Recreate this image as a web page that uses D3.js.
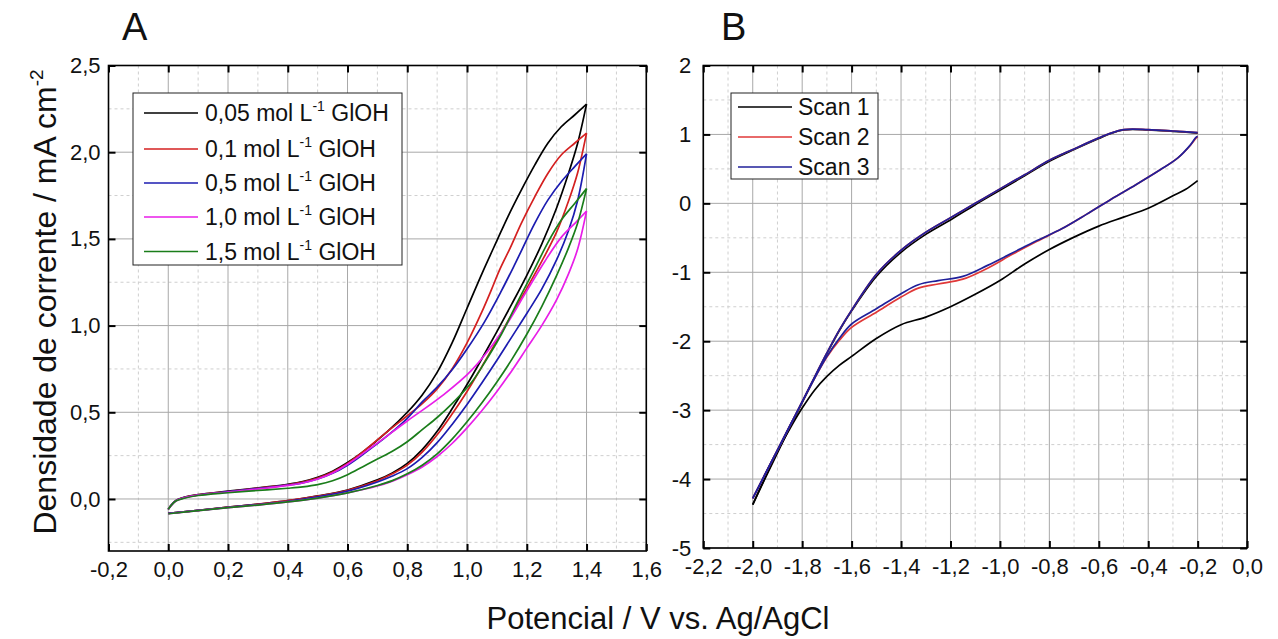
<!DOCTYPE html>
<html><head><meta charset="utf-8">
<script src="https://cdn.jsdelivr.net/npm/d3@7"></script>
<style>
body{margin:0;background:#fff}
text{font-family:"Liberation Sans",Arial,Helvetica,sans-serif;fill:#111}
</style>
</head><body>
<svg id="chart" width="1278" height="639"></svg>
<script>
// ---------------- DATA ----------------
// Panel A: potential (V) vs current density (mA cm-2), forward (lower) and reverse (upper) branches
const glyc005_fwd = [[0,-0.083],[0.1,-0.066],[0.2,-0.047],[0.3,-0.03],[0.4,-0.01],[0.5,0.018],[0.6,0.052],[0.7,0.11],[0.75,0.15],[0.8,0.205],[0.85,0.285],[0.9,0.39],[0.95,0.52],[1.0,0.66],[1.05,0.81],[1.1,0.965],[1.15,1.125],[1.2,1.29],[1.25,1.47],[1.3,1.68],[1.34,1.88],[1.37,2.05],[1.4,2.277]];
const glyc005_rev = [[1.4,2.277],[1.361,2.216],[1.316,2.148],[1.271,2.053],[1.227,1.927],[1.182,1.783],[1.137,1.629],[1.1,1.49],[1.05,1.3],[1.0,1.1],[0.95,0.9],[0.9,0.73],[0.85,0.6],[0.8,0.5],[0.734,0.39],[0.65,0.27],[0.6,0.21],[0.55,0.16],[0.5,0.125],[0.45,0.1],[0.4,0.085],[0.33,0.07],[0.2,0.045],[0.1,0.025],[0.05,0.008],[0.025,-0.01],[0.008,-0.04],[0,-0.06]];
const glyc01_fwd = [[0,-0.083],[0.1,-0.066],[0.2,-0.047],[0.3,-0.03],[0.4,-0.01],[0.5,0.016],[0.6,0.05],[0.7,0.105],[0.75,0.145],[0.8,0.195],[0.85,0.27],[0.9,0.37],[0.95,0.49],[1.0,0.62],[1.05,0.765],[1.1,0.915],[1.15,1.065],[1.2,1.215],[1.25,1.37],[1.3,1.54],[1.34,1.72],[1.37,1.88],[1.4,2.11]];
const glyc01_rev = [[1.4,2.11],[1.361,2.053],[1.316,1.985],[1.271,1.879],[1.227,1.744],[1.182,1.591],[1.145,1.45],[1.109,1.321],[1.08,1.2],[1.05,1.08],[1.0,0.9],[0.95,0.75],[0.9,0.635],[0.85,0.55],[0.8,0.48],[0.734,0.39],[0.65,0.27],[0.6,0.205],[0.55,0.155],[0.5,0.12],[0.45,0.097],[0.4,0.082],[0.33,0.068],[0.2,0.043],[0.1,0.024],[0.05,0.007],[0.025,-0.01],[0.008,-0.04],[0,-0.06]];
const glyc05_fwd = [[0,-0.083],[0.1,-0.066],[0.2,-0.048],[0.3,-0.032],[0.4,-0.013],[0.5,0.012],[0.6,0.045],[0.7,0.098],[0.75,0.132],[0.8,0.175],[0.85,0.24],[0.9,0.325],[0.95,0.43],[1.0,0.545],[1.05,0.67],[1.1,0.8],[1.15,0.935],[1.2,1.07],[1.25,1.21],[1.3,1.38],[1.34,1.55],[1.37,1.72],[1.4,1.99]];
const glyc05_rev = [[1.4,1.99],[1.361,1.918],[1.316,1.831],[1.271,1.725],[1.227,1.591],[1.159,1.35],[1.115,1.2],[1.058,1.02],[1.0,0.865],[0.95,0.745],[0.9,0.645],[0.85,0.56],[0.8,0.465],[0.734,0.365],[0.65,0.255],[0.6,0.195],[0.55,0.148],[0.5,0.115],[0.45,0.093],[0.4,0.08],[0.33,0.066],[0.2,0.042],[0.1,0.023],[0.05,0.006],[0.025,-0.01],[0.008,-0.04],[0,-0.06]];
const glyc10_fwd = [[0,-0.085],[0.1,-0.067],[0.2,-0.05],[0.3,-0.035],[0.4,-0.017],[0.5,0.005],[0.6,0.035],[0.7,0.075],[0.75,0.103],[0.8,0.14],[0.85,0.185],[0.9,0.245],[0.95,0.32],[1.0,0.41],[1.05,0.51],[1.1,0.62],[1.15,0.74],[1.2,0.87],[1.25,1.0],[1.3,1.15],[1.34,1.3],[1.37,1.44],[1.4,1.66]];
const glyc10_rev = [[1.4,1.66],[1.361,1.59],[1.316,1.51],[1.26,1.37],[1.2,1.2],[1.115,0.96],[1.014,0.74],[0.913,0.59],[0.8,0.45],[0.69,0.31],[0.6,0.2],[0.55,0.15],[0.5,0.115],[0.45,0.092],[0.4,0.078],[0.33,0.063],[0.2,0.04],[0.1,0.022],[0.05,0.005],[0.025,-0.012],[0.008,-0.04],[0,-0.06]];
const glyc15_fwd = [[0,-0.085],[0.1,-0.067],[0.2,-0.05],[0.3,-0.035],[0.4,-0.017],[0.5,0.005],[0.6,0.035],[0.7,0.078],[0.75,0.106],[0.8,0.145],[0.85,0.195],[0.9,0.26],[0.95,0.345],[1.0,0.445],[1.05,0.555],[1.1,0.675],[1.15,0.805],[1.2,0.95],[1.25,1.11],[1.3,1.29],[1.34,1.45],[1.37,1.59],[1.4,1.79]];
const glyc15_rev = [[1.4,1.79],[1.361,1.706],[1.316,1.61],[1.271,1.48],[1.227,1.33],[1.17,1.14],[1.115,0.95],[1.06,0.79],[1.014,0.67],[0.95,0.55],[0.9,0.47],[0.85,0.4],[0.8,0.33],[0.75,0.275],[0.7,0.23],[0.65,0.185],[0.6,0.14],[0.55,0.105],[0.5,0.083],[0.45,0.07],[0.4,0.062],[0.33,0.053],[0.2,0.036],[0.1,0.02],[0.05,0.003],[0.025,-0.012],[0.008,-0.04],[0,-0.06]];

const legendA = ["0,05", "0,1", "0,5", "1,0", "1,5"];

// Panel B: three scans, reverse (upper) and forward (lower) branches
const scan1_upper = [[-0.2,1.02],[-0.3,1.045],[-0.4,1.065],[-0.5,1.065],[-0.554,1.01],[-0.6,0.94],[-0.7,0.78],[-0.8,0.61],[-0.9,0.4],[-1.0,0.19],[-1.1,-0.02],[-1.2,-0.24],[-1.3,-0.45],[-1.4,-0.71],[-1.5,-1.06],[-1.6,-1.56],[-1.65,-1.85],[-1.7,-2.18],[-1.75,-2.53],[-1.8,-2.89],[-1.85,-3.25],[-1.9,-3.62],[-1.95,-3.99],[-2.0,-4.37]];
const scan1_lower = [[-2.0,-4.37],[-1.95,-3.98],[-1.9,-3.6],[-1.85,-3.27],[-1.8,-2.97],[-1.75,-2.71],[-1.7,-2.51],[-1.65,-2.35],[-1.6,-2.22],[-1.5,-1.96],[-1.4,-1.76],[-1.3,-1.65],[-1.2,-1.5],[-1.1,-1.32],[-1.0,-1.12],[-0.9,-0.88],[-0.8,-0.67],[-0.7,-0.49],[-0.6,-0.33],[-0.5,-0.2],[-0.4,-0.07],[-0.3,0.11],[-0.25,0.2],[-0.2,0.33]];
const scan2_upper = [[-0.2,1.025],[-0.3,1.05],[-0.4,1.07],[-0.5,1.07],[-0.554,1.015],[-0.6,0.95],[-0.7,0.79],[-0.8,0.625],[-0.9,0.415],[-1.0,0.21],[-1.1,0.0],[-1.2,-0.21],[-1.3,-0.42],[-1.4,-0.68],[-1.5,-1.03],[-1.6,-1.55],[-1.65,-1.84],[-1.7,-2.17],[-1.75,-2.52],[-1.8,-2.88],[-1.85,-3.23],[-1.9,-3.58],[-1.95,-3.93],[-2.0,-4.28]];
const scan2_lower = [[-2.0,-4.28],[-1.95,-3.93],[-1.9,-3.58],[-1.85,-3.23],[-1.8,-2.88],[-1.75,-2.54],[-1.7,-2.23],[-1.65,-1.99],[-1.6,-1.8],[-1.5,-1.58],[-1.4,-1.36],[-1.33,-1.23],[-1.25,-1.17],[-1.15,-1.1],[-1.05,-0.94],[-0.95,-0.74],[-0.85,-0.55],[-0.75,-0.37],[-0.65,-0.16],[-0.55,0.06],[-0.45,0.27],[-0.35,0.49],[-0.28,0.66],[-0.23,0.84],[-0.206,0.95],[-0.2,0.97]];
const scan3_upper = [[-0.2,1.025],[-0.3,1.05],[-0.4,1.07],[-0.5,1.07],[-0.554,1.015],[-0.6,0.95],[-0.7,0.79],[-0.8,0.625],[-0.9,0.415],[-1.0,0.21],[-1.1,0.0],[-1.2,-0.21],[-1.3,-0.42],[-1.4,-0.68],[-1.5,-1.03],[-1.6,-1.55],[-1.65,-1.84],[-1.7,-2.17],[-1.75,-2.52],[-1.8,-2.88],[-1.85,-3.23],[-1.9,-3.58],[-1.95,-3.93],[-2.0,-4.28]];
const scan3_lower = [[-2.0,-4.28],[-1.95,-3.93],[-1.9,-3.58],[-1.85,-3.23],[-1.8,-2.88],[-1.75,-2.54],[-1.7,-2.22],[-1.65,-1.96],[-1.6,-1.75],[-1.5,-1.53],[-1.4,-1.31],[-1.33,-1.18],[-1.25,-1.12],[-1.15,-1.06],[-1.05,-0.9],[-0.95,-0.72],[-0.85,-0.54],[-0.75,-0.37],[-0.65,-0.16],[-0.55,0.06],[-0.45,0.27],[-0.35,0.49],[-0.28,0.66],[-0.23,0.845],[-0.206,0.96],[-0.2,0.97]];

const legendB = ["Scan 1", "Scan 2", "Scan 3"];

// tick values
const xTicksA = [-0.2,0,0.2,0.4,0.6,0.8,1.0,1.2,1.4,1.6];
const yTicksA = [0,0.5,1.0,1.5,2.0,2.5];
const xMinorA = [-0.1,0.1,0.3,0.5,0.7,0.9,1.1,1.3,1.5];
const yMinorA = [-0.25,0.25,0.75,1.25,1.75,2.25];
const xTicksB = [-2.2,-2.0,-1.8,-1.6,-1.4,-1.2,-1.0,-0.8,-0.6,-0.4,-0.2,0.0];
const yTicksB = [-5,-4,-3,-2,-1,0,1,2];
const xMinorB = [-2.1,-1.9,-1.7,-1.5,-1.3,-1.1,-0.9,-0.7,-0.5,-0.3,-0.1];
const yMinorB = [-4.5,-3.5,-2.5,-1.5,-0.5,0.5,1.5];

// ---------------- STYLE / LAYOUT ----------------
const colA = ["#000000", "#d42020", "#1c1cb0", "#e81ee8", "#1a7d1a"];
const colB = ["#000000", "#e03838", "#20209a"];
const svg = d3.select("#chart");

const fmtDec = d => d3.format(".1f")(d).replace(".", ",").replace("\u2212", "-");
const fmtInt = d => d3.format("d")(d).replace("\u2212", "-");

function panel(opt) {
  const g = svg.append("g");
  const x = d3.scaleLinear().domain(opt.xd).range([opt.l, opt.r]);
  const y = d3.scaleLinear().domain(opt.yd).range([opt.b, opt.t]);
  const clipId = "clip" + opt.id;
  svg.append("clipPath").attr("id", clipId).append("rect")
    .attr("x", opt.l).attr("y", opt.t).attr("width", opt.r - opt.l).attr("height", opt.b - opt.t);
  // minor grid
  g.selectAll(".mx").data(opt.xMinor).join("line")
    .attr("x1", d => x(d)).attr("x2", d => x(d)).attr("y1", opt.t).attr("y2", opt.b)
    .attr("stroke", "#cfcfcf").attr("stroke-width", 1).attr("stroke-dasharray", "3,3");
  g.selectAll(".my").data(opt.yMinor).join("line")
    .attr("y1", d => y(d)).attr("y2", d => y(d)).attr("x1", opt.l).attr("x2", opt.r)
    .attr("stroke", "#cfcfcf").attr("stroke-width", 1).attr("stroke-dasharray", "3,3");
  // major grid
  g.selectAll(".gx").data(opt.xTicks).join("line")
    .attr("x1", d => x(d)).attr("x2", d => x(d)).attr("y1", opt.t).attr("y2", opt.b)
    .attr("stroke", "#a8a8a8").attr("stroke-width", 1);
  g.selectAll(".gy").data(opt.yTicks).join("line")
    .attr("y1", d => y(d)).attr("y2", d => y(d)).attr("x1", opt.l).attr("x2", opt.r)
    .attr("stroke", "#a8a8a8").attr("stroke-width", 1);
  // curves
  const line = d3.line().x(d => x(d[0])).y(d => y(d[1])).curve(d3.curveCatmullRom.alpha(0.5));
  const cg = g.append("g").attr("clip-path", `url(#${clipId})`);
  opt.series.forEach(s => {
    s.parts.forEach(p => {
      cg.append("path").attr("d", line(p)).attr("fill", "none")
        .attr("stroke", s.color).attr("stroke-width", 1.7).attr("stroke-linejoin", "round");
    });
  });
  // axes
  const bottom = g.append("g").attr("transform", `translate(0,${opt.b})`)
    .call(d3.axisBottom(x).tickValues(opt.xTicks).tickSizeInner(-7).tickSizeOuter(0).tickPadding(10).tickFormat(opt.xfmt));
  const top = g.append("g").attr("transform", `translate(0,${opt.t})`)
    .call(d3.axisTop(x).tickValues(opt.xTicks).tickSizeInner(-7).tickSizeOuter(0).tickFormat(""));
  const left = g.append("g").attr("transform", `translate(${opt.l},0)`)
    .call(d3.axisLeft(y).tickValues(opt.yTicks).tickSizeInner(-7).tickSizeOuter(0).tickPadding(opt.ypad).tickFormat(opt.yfmt));
  const right = g.append("g").attr("transform", `translate(${opt.r},0)`)
    .call(d3.axisRight(y).tickValues(opt.yTicks).tickSizeInner(-7).tickSizeOuter(0).tickFormat(""));
  [bottom, top, left, right].forEach(a => {
    a.select(".domain").remove();
    a.selectAll(".tick line").attr("stroke", "#000").attr("stroke-width", 2);
    a.selectAll("text").style("font-size", "22px").attr("fill", "#111")
      .style("font-family", "'Liberation Sans', Arial, sans-serif");
  });
  // frame
  g.append("rect").attr("x", opt.l).attr("y", opt.t).attr("width", opt.r - opt.l).attr("height", opt.b - opt.t)
    .attr("fill", "none").attr("stroke", "#000").attr("stroke-width", 1.6);
  return {g, x, y};
}

// ---------------- PANEL A ----------------
const seriesA = [
  {color: colA[0], parts: [glyc005_fwd, glyc005_rev]},
  {color: colA[1], parts: [glyc01_fwd, glyc01_rev]},
  {color: colA[2], parts: [glyc05_fwd, glyc05_rev]},
  {color: colA[3], parts: [glyc10_fwd, glyc10_rev]},
  {color: colA[4], parts: [glyc15_fwd, glyc15_rev]}
];
panel({id: "A", l: 108.5, r: 646.3, t: 65.5, b: 551,
  xd: [-0.2, 1.6], yd: [-0.3, 2.5], xTicks: xTicksA, yTicks: yTicksA, xMinor: xMinorA, yMinor: yMinorA,
  xfmt: fmtDec, yfmt: fmtDec, ypad: 8, series: seriesA});

// ---------------- PANEL B ----------------
const seriesB = [
  {color: colB[0], parts: [scan1_upper, scan1_lower]},
  {color: colB[1], parts: [scan2_upper, scan2_lower]},
  {color: colB[2], parts: [scan3_upper, scan3_lower]}
];
panel({id: "B", l: 703.3, r: 1247.1, t: 65.5, b: 548,
  xd: [-2.2, 0.0], yd: [-5, 2], xTicks: xTicksB, yTicks: yTicksB, xMinor: xMinorB, yMinor: yMinorB,
  xfmt: fmtDec, yfmt: fmtInt, ypad: 12, series: seriesB});

// ---------------- LEGENDS ----------------
function legend(x0, y0, w, h, rows, labels, colors, sup, lx, tx) {
  const lg = svg.append("g");
  lg.append("rect").attr("x", x0).attr("y", y0).attr("width", w).attr("height", h)
    .attr("fill", "#fff").attr("stroke", "#222").attr("stroke-width", 1);
  labels.forEach((lab, i) => {
    const cy = rows[i];
    lg.append("line").attr("x1", x0 + lx).attr("x2", x0 + lx + 54).attr("y1", cy).attr("y2", cy)
      .attr("stroke", colors[i]).attr("stroke-width", 1.7);
    const t = lg.append("text").attr("x", x0 + tx).attr("y", cy + 8).style("font-size", "23px");
    if (sup) {
      t.append("tspan").text(lab + " mol L");
      t.append("tspan").attr("dy", -10).style("font-size", "14px").text("-1");
      t.append("tspan").attr("dy", 10).text(" GlOH");
    } else {
      t.text(lab);
    }
  });
}
legend(133, 93, 269, 172, [113, 149, 183, 217, 251.5], legendA, colA, true, 11, 72);
legend(731, 93, 147, 86, [107, 137, 167], legendB, colB, false, 7, 67);

// ---------------- TITLES / AXIS LABELS ----------------
svg.append("text").attr("x", 122).attr("y", 40).style("font-size", "38px").text("A");
svg.append("text").attr("x", 721).attr("y", 40).style("font-size", "38px").text("B");

svg.append("text").attr("x", 658).attr("y", 629).attr("text-anchor", "middle")
  .style("font-size", "31px").text("Potencial / V vs. Ag/AgCl");

const yl = svg.append("text").attr("transform", "translate(56,302) rotate(-90)")
  .attr("text-anchor", "middle").style("font-size", "32px");
yl.append("tspan").text("Densidade de corrente / mA cm");
yl.append("tspan").attr("dy", -13).style("font-size", "19px").text("-2");
</script>
</body></html>
